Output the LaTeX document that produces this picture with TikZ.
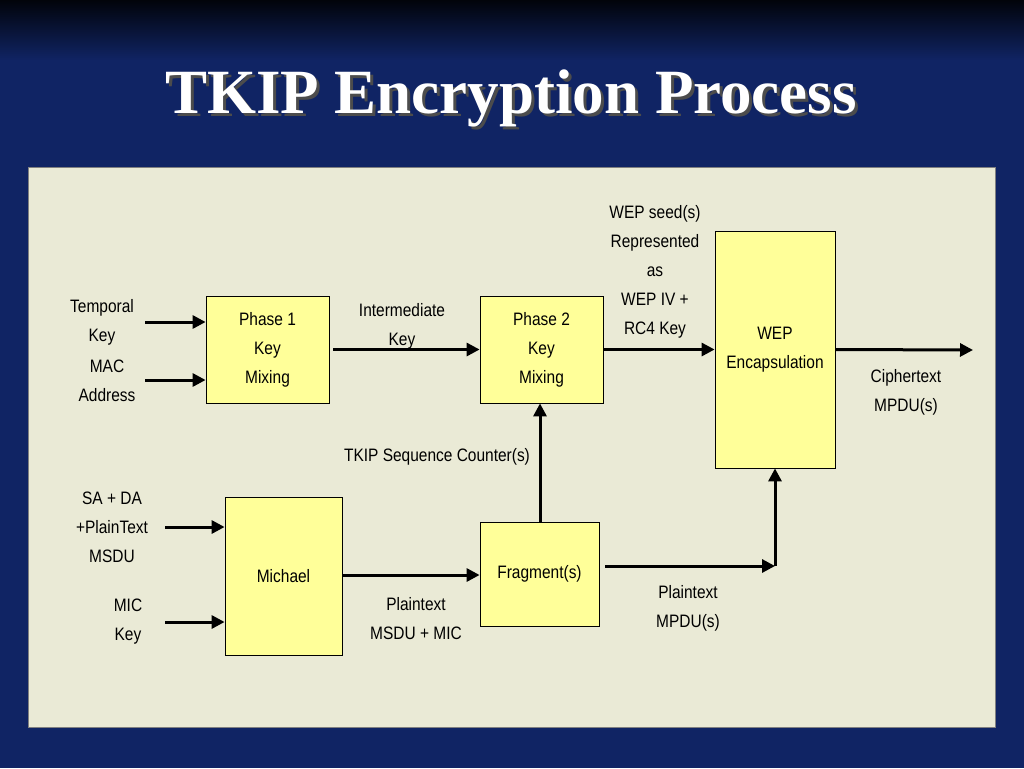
\documentclass[tikz,border=0pt]{standalone}
\usepackage{fontspec}
\setmainfont{Liberation Sans}[FakeStretch=0.86]
\newfontfamily\titlefont{Liberation Serif}
\usetikzlibrary{arrows.meta}
\definecolor{navy}{RGB}{16,36,100}
\definecolor{panel}{RGB}{234,234,214}
\definecolor{boxy}{RGB}{255,255,153}
\begin{document}
\begin{tikzpicture}[x=1pt,y=-1pt,
  blk/.style={draw=black,fill=boxy,line width=0.8pt,align=center,inner sep=0pt,font=\fontsize{18}{29}\selectfont},
  lbl/.style={align=center,inner sep=0pt,font=\fontsize{18}{29}\selectfont},
  arr/.style={line width=3pt,-{Triangle[length=13pt,width=13pt]}}]
\useasboundingbox (0,0) rectangle (1024,768);
\fill[navy] (0,0) rectangle (1024,768);
\shade[top color=black!90!navy,bottom color=navy] (0,0) rectangle (1024,60);
\node[text=black!70,font=\titlefont\bfseries\fontsize{63}{66}\selectfont] at (514,101) {TKIP Encryption Process};
\node[text=white,font=\titlefont\bfseries\fontsize{63}{66}\selectfont] at (511,98) {TKIP Encryption Process};
\fill[panel,draw=gray] (28,167) rectangle (995,727);
\node[blk,minimum width=123pt,minimum height=107pt] (p1) at (267.5,349.5) {Phase 1\\Key\\Mixing};
\node[blk,minimum width=123pt,minimum height=107pt] (p2) at (541.5,349.5) {Phase 2\\Key\\Mixing};
\node[blk,minimum width=120pt,minimum height=237pt] (wep) at (775,349.5) {WEP\\Encapsulation};
\node[blk,minimum width=117pt,minimum height=158pt] (mi) at (283.5,576) {Michael};
\node[blk,minimum width=119pt,minimum height=104pt] (fr) at (539.5,574) {Fragment(s)};
\node[lbl] (tk) at (102,322) {Temporal\\Key};
\node[lbl] (mac) at (107,381) {MAC\\Address};
\node[lbl] (ik) at (402,326) {Intermediate\\Key};
\node[lbl] (ws) at (655,272) {WEP seed(s)\\Represented\\as\\WEP IV +\\RC4 Key};
\node[lbl] (ct) at (906,392) {Ciphertext\\MPDU(s)};
\node[lbl] (sc) at (437,457) {TKIP Sequence Counter(s)};
\node[lbl] (sa) at (112,527) {SA + DA\\+PlainText\\MSDU};
\node[lbl] (mk) at (128,622) {MIC\\Key};
\node[lbl] (pm) at (416,619) {Plaintext\\MSDU + MIC};
\node[lbl] (pp) at (688,608) {Plaintext\\MPDU(s)};
\coordinate (tka) at (145,322); \coordinate (maca) at (145,380);
\coordinate (saa) at (165,527); \coordinate (mka) at (165,622);
\coordinate (out) at (973,350); \coordinate (j) at (775,566);
\draw[arr] (tka) -- (tka -| p1.west);
\draw[arr] (maca) -- (maca -| p1.west);
\draw[arr] (p1.east) ++(4,0) -- (p2.west);
\draw[arr] (p2.east) -- (wep.west);
\draw[arr] (wep.east) -- (out);
\draw[arr] (saa) -- (saa -| mi.west);
\draw[arr] (mka) -- (mka -| mi.west);
\draw[arr] (mi.east |- 0,575) -- (fr.west |- 0,575);
\draw[arr] (fr.north -| 540,0) -- (p2.south -| 540,0);
\draw[arr] (fr.east |- 0,566) ++(6,0) -- (j);
\draw[arr] (j) -- (wep.south);
\end{tikzpicture}
\end{document}
